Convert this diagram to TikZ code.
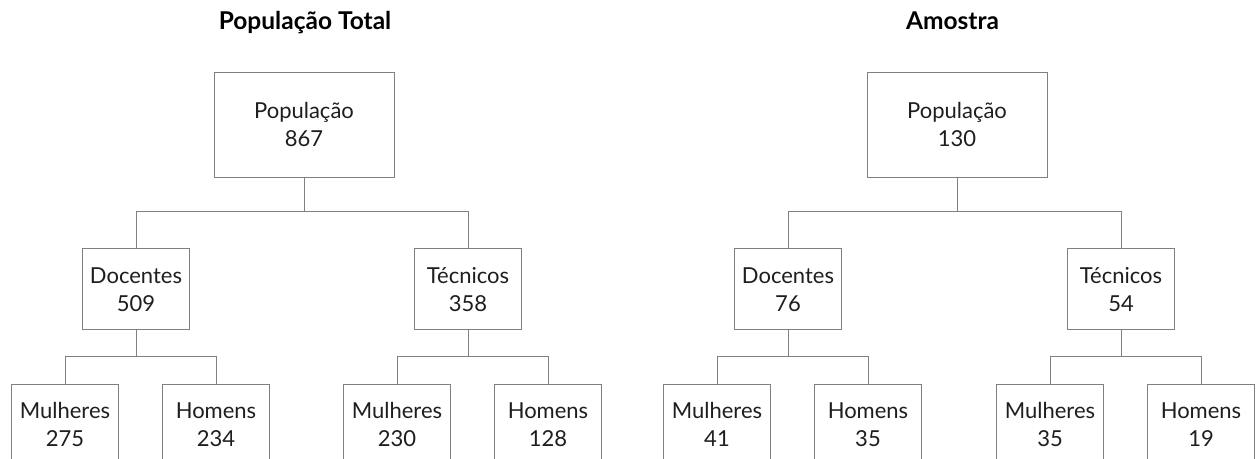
\documentclass[tikz,border=0pt]{standalone}
\usepackage{fontspec}
\setmainfont{Lato}
\usetikzlibrary{positioning}
\definecolor{linegray}{HTML}{808080}
\definecolor{textgray}{HTML}{1E1E1E}

\begin{document}
\begin{tikzpicture}[x=1pt, y=1pt, node distance=71pt,
    caixa/.style={rectangle, draw=linegray, line width=0.9pt, text=textgray, align=center, inner sep=0pt, font=\fontsize{22}{28}\selectfont},
    topo/.style={caixa, minimum width=180pt, minimum height=105pt},
    meio/.style={caixa, minimum width=107pt, minimum height=81pt},
    folha/.style={caixa, minimum width=107pt, minimum height=80pt},
    titulo/.style={font=\bfseries\fontsize{24.5}{28}\selectfont, text=black, anchor=base},
    liga/.style={draw=linegray, line width=0.9pt}]

    \useasboundingbox (0,0) rectangle (1256,458);
    \clip (0,0) rectangle (1256,458);

        % Titles
    \node (tituloT) [titulo] at (305,428.5) {População Total};
    \node (tituloA) [titulo] at (952.5,428) {Amostra};

        % Nodes: População Total
    \node (popT) [topo] at (304,333.5) {População\\867};
    \node (docT) [meio, below=of popT, xshift=-168pt] {Docentes\\509};
    \node (tecT) [meio, below=of popT, xshift=164pt] {Técnicos\\358};
    \node (mulDT) [folha, below=54pt of docT, xshift=-71pt] {Mulheres\\275};
    \node (homDT) [folha, below=54pt of docT, xshift=80pt] {Homens\\234};
    \node (mulTT) [folha, below=54pt of tecT, xshift=-71pt] {Mulheres\\230};
    \node (homTT) [folha, below=54pt of tecT, xshift=80pt] {Homens\\128};

        % Nodes: Amostra
    \node (popA) [topo] at (957,333.5) {População\\130};
    \node (docA) [meio, below=of popA, xshift=-169pt] {Docentes\\76};
    \node (tecA) [meio, below=of popA, xshift=164pt] {Técnicos\\54};
    \node (mulDA) [folha, below=54pt of docA, xshift=-71pt] {Mulheres\\41};
    \node (homDA) [folha, below=54pt of docA, xshift=80pt] {Homens\\35};
    \node (mulTA) [folha, below=54pt of tecA, xshift=-71pt] {Mulheres\\35};
    \node (homTA) [folha, below=54pt of tecA, xshift=80pt] {Homens\\19};

        % Lines
    \draw [liga] (popT.south) -- ++(0,-34) -| (docT.north);
    \draw [liga] (popT.south) -- ++(0,-34) -| (tecT.north);
    \draw [liga] (docT.south) -- ++(0,-26) -| (mulDT.north);
    \draw [liga] (docT.south) -- ++(0,-26) -| (homDT.north);
    \draw [liga] (tecT.south) -- ++(0,-26) -| (mulTT.north);
    \draw [liga] (tecT.south) -- ++(0,-26) -| (homTT.north);

    \draw [liga] (popA.south) -- ++(0,-34) -| (docA.north);
    \draw [liga] (popA.south) -- ++(0,-34) -| (tecA.north);
    \draw [liga] (docA.south) -- ++(0,-26) -| (mulDA.north);
    \draw [liga] (docA.south) -- ++(0,-26) -| (homDA.north);
    \draw [liga] (tecA.south) -- ++(0,-26) -| (mulTA.north);
    \draw [liga] (tecA.south) -- ++(0,-26) -| (homTA.north);

\end{tikzpicture}
\end{document}
